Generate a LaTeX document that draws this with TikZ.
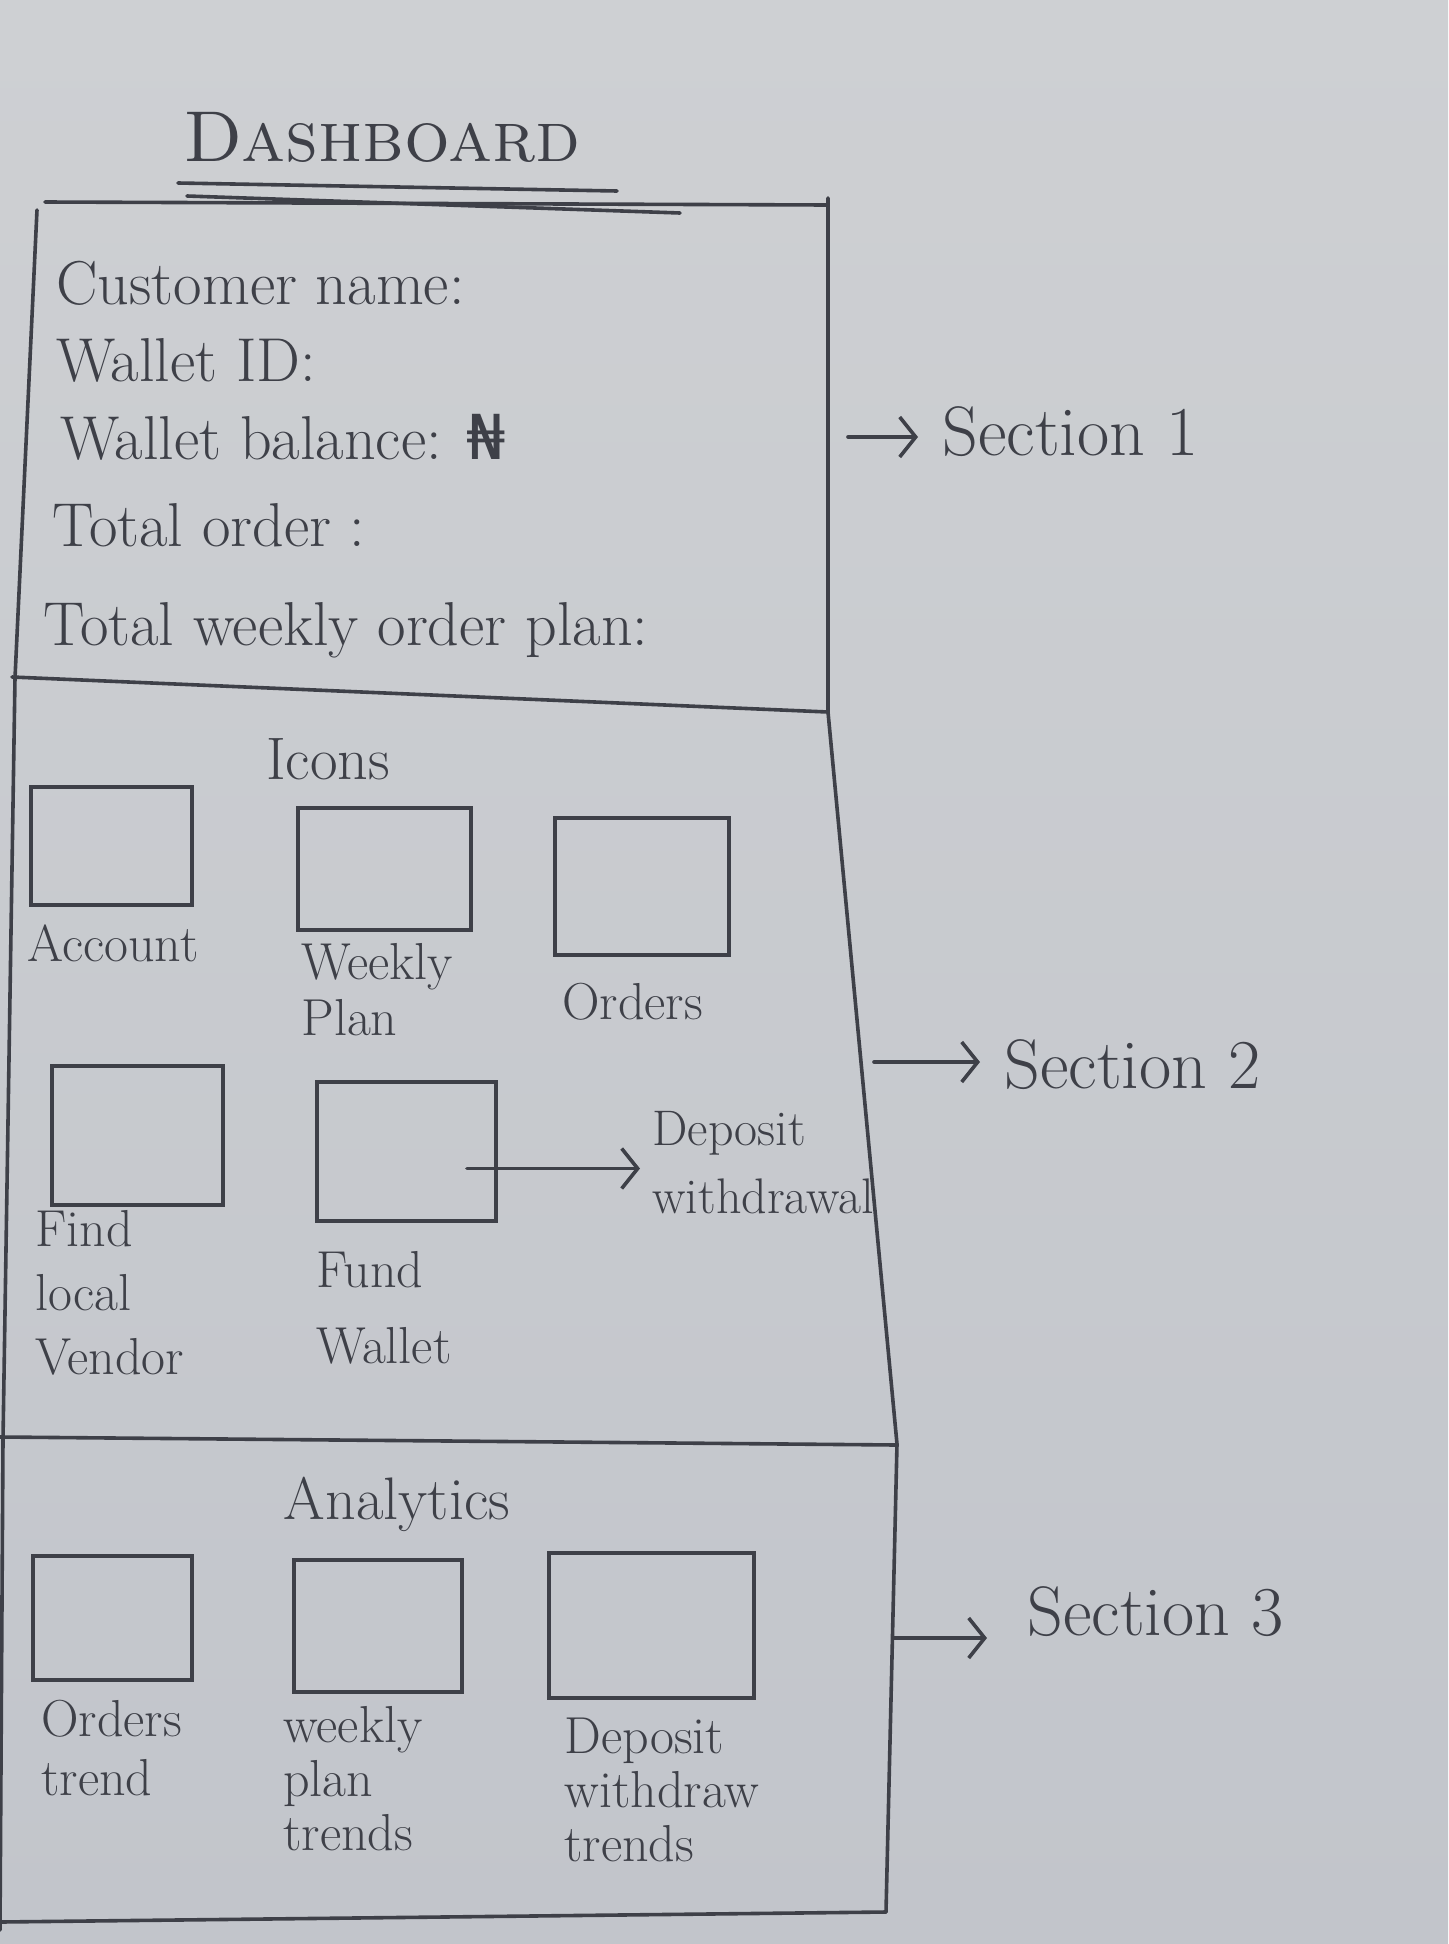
\documentclass[tikz,border=0pt]{standalone}
\usepackage{fontspec}
\newfontfamily\djv{DejaVu Sans}
\usetikzlibrary{arrows.meta,calc}
\definecolor{paper}{RGB}{194,197,203}
\definecolor{paperhi}{RGB}{206,208,211}
\definecolor{ink}{RGB}{62,64,72}
\begin{document}
\begin{tikzpicture}[x=0.5pt,y=-0.5pt,
  frame/.style={draw=ink,line width=1.8pt,line cap=round,line join=round},
  box/.style={draw=ink,line width=1.9pt,inner sep=0pt},
  lbl/.style={text=ink,inner sep=0pt,align=left,anchor=north west},
  lblone/.style={text=ink,inner sep=0pt,anchor=base west,font=\fontsize{26}{30}\selectfont},
  info/.style={text=ink,inner sep=0pt,anchor=base west,font=\fontsize{31}{36}\selectfont},
  sec/.style={text=ink,inner sep=0pt,anchor=base west,font=\fontsize{35}{40}\selectfont},
  head/.style={text=ink,inner sep=0pt,anchor=base,font=\fontsize{30}{34}\selectfont},
  arr/.style={draw=ink,line width=1.8pt,line cap=round,-{Straight Barb[length=8pt,width=20pt]}}
]
\useasboundingbox (0,0) rectangle (1448,1944);
\shade[top color=paperhi,bottom color=paper] (0,0) rectangle (1448,1944);

% title
\node[text=ink,inner sep=0pt,anchor=base west,font=\fontsize{36}{40}\selectfont\scshape] (title) at (183,161) {Dashboard};
\draw[frame] (178,183) -- (617,191);
\draw[frame] (187,196) -- (680,213);

% outer frame and section dividers
\draw[frame] (45,202) -- (828,205);
\draw[frame] (37,210) -- (15,678) -- (3,1440) -- (0,1930);
\draw[frame] (828,198) -- (828,712) -- (897,1444) -- (886,1912);
\draw[frame] (12,677) -- (828,712);
\draw[frame] (0,1437) -- (897,1445);
\draw[frame] (0,1922) -- (886,1912);

% section 1 text
\node[info] (cname) at (56,304) {Customer name:};
\node[info] (wid) at (56,381) {Wallet ID:};
\node[info] (wbal) at (60,459) {Wallet balance: {\djv ₦}};
\node[info] (tord) at (52,546) {Total order :};
\node[info] (twop) at (43,645) {Total weekly order plan:};

% section 2 icons
\node[head] (icons) at (328,779) {Icons};
\node[box,minimum width=80.5pt,minimum height=59pt] (acc) at (111.5,846) {};
\node[box,minimum width=86.5pt,minimum height=61pt] (wk) at (384.5,869) {};
\node[box,minimum width=87pt,minimum height=68.5pt] (ord) at (642,886.5) {};
\node[box,minimum width=85.5pt,minimum height=69.5pt] (find) at (137.5,1135.5) {};
\node[box,minimum width=89.5pt,minimum height=69.5pt] (fund) at (406.5,1151.5) {};

\node[lblone] (accl) at (27,961) {Account};
\node[lbl,font=\fontsize{26}{28}\selectfont] (wkl) at (301,943) {Weekly\\Plan};
\node[lblone] (ordl) at (562,1019) {Orders};
\node[lbl,font=\fontsize{26}{32}\selectfont] (findl) at (35,1210) {Find\\local\\Vendor};
\node[lbl,font=\fontsize{26}{38}\selectfont] (fundl) at (316,1251) {Fund\\Wallet};
\node[lbl,font=\fontsize{25}{34}\selectfont] (dep) at (652,1111) {Deposit\\withdrawal};

\coordinate (fs) at ($(fund.east)+(-31,17)$);
\draw[arr,shorten >=6pt] (fs) -- (fs -| dep.west);

% section 3 analytics
\node[head] (analytics) at (397,1519) {Analytics};
\node[box,minimum width=79.5pt,minimum height=62pt] (ot) at (112.5,1618) {};
\node[box,minimum width=84pt,minimum height=66pt] (wpt) at (378,1626) {};
\node[box,minimum width=102.5pt,minimum height=72.5pt] (dwt) at (651.5,1625.5) {};

\node[lbl,font=\fontsize{26}{29.5}\selectfont] (otl) at (41,1700) {Orders\\trend};
\node[lbl,font=\fontsize{26}{27}\selectfont] (wptl) at (283,1706) {weekly\\plan\\trends};
\node[lbl,font=\fontsize{26}{27}\selectfont] (dwtl) at (564,1718) {Deposit\\withdraw\\trends};

% section labels
\node[sec] (sec1) at (942,455) {Section 1};
\node[sec] (sec2) at (1004,1088) {Section 2};
\node[sec] (sec3) at (1027,1635) {Section 3};
\coordinate (s1) at (848,437);
\coordinate (s2) at (874,1062);
\coordinate (s3) at (893,1638);
\draw[arr,shorten >=12pt] (s1) -- (s1 -| sec1.west);
\draw[arr,shorten >=12pt] (s2) -- (s2 -| sec2.west);
\draw[arr,shorten >=20pt] (s3) -- (s3 -| sec3.west);
\end{tikzpicture}
\end{document}
